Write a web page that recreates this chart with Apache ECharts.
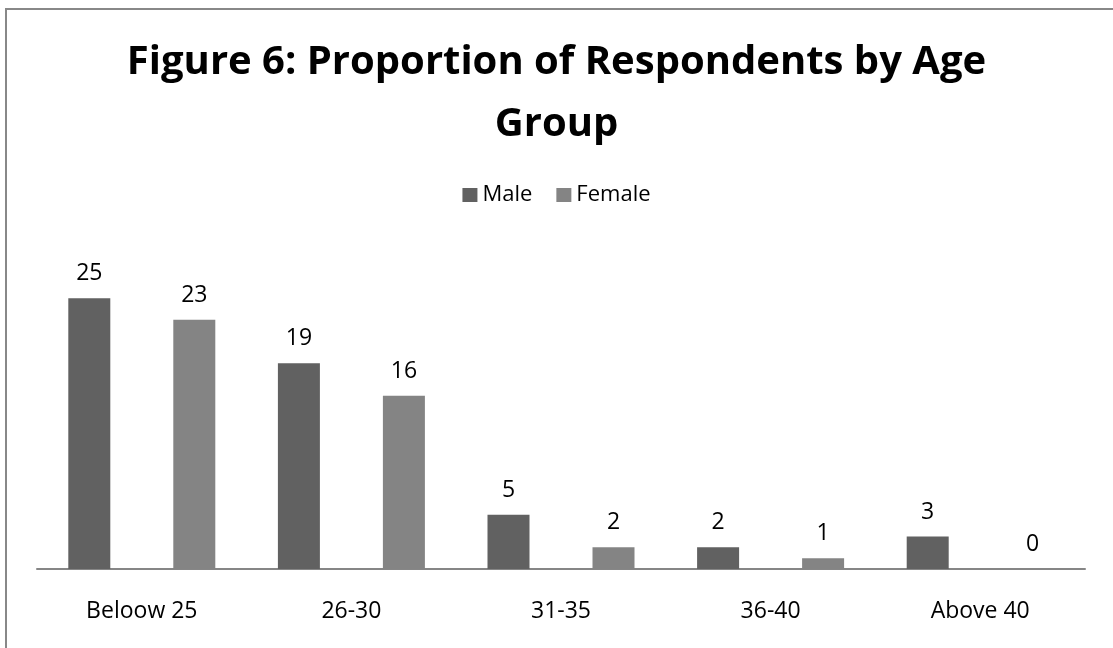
<!DOCTYPE html>
<html>
<head>
<meta charset="utf-8">
<script src="https://cdn.jsdelivr.net/npm/echarts@6/dist/echarts.min.js"></script>
<style>
html,body{margin:0;padding:0;background:#fff;}
#chart{width:1113px;height:648px;}
</style>
</head>
<body>
<div id="chart"></div>
<script>
const categories = ["Beloow 25", "26-30", "31-35", "36-40", "Above 40"];
const maleValues = [25, 19, 5, 2, 3];
const femaleValues = [23, 16, 2, 1, 0];
const seriesNames = ["Male", "Female"];
const titleText = "Figure 6: Proportion of Respondents by Age\nGroup";

const FONT = '"Open Sans", sans-serif';
const chart = echarts.init(document.getElementById('chart'), null, {renderer: 'canvas'});
const labelCfg = {
  show: true, position: 'top', distance: 13,
  color: '#000', fontSize: 23, fontFamily: FONT
};
chart.setOption({
  animation: false,
  backgroundColor: '#fff',
  graphic: [{
    type: 'rect', silent: true,
    shape: {x: 6, y: 9, width: 1200, height: 800},
    style: {fill: 'none', stroke: '#888', lineWidth: 2}
  }],
  title: {
    text: titleText, left: 'center', top: 27,
    textStyle: {fontFamily: FONT, fontWeight: 'bold', fontSize: 40, lineHeight: 62, color: '#000'}
  },
  legend: {
    top: 179, left: 'center',
    itemWidth: 15, itemHeight: 14, itemGap: 24,
    icon: 'rect',
    textStyle: {fontFamily: FONT, fontSize: 22, color: '#000'},
    data: seriesNames
  },
  grid: {left: 37, right: 28, top: 244, bottom: 79, containLabel: false},
  xAxis: {
    type: 'category', data: categories,
    axisLine: {show: true, lineStyle: {color: '#868686', width: 2}},
    axisTick: {show: false},
    axisLabel: {color: '#000', fontSize: 23, fontFamily: FONT, margin: 31}
  },
  yAxis: {
    type: 'value', min: 0, max: 30, show: false,
    splitLine: {show: false}
  },
  series: [
    {name: seriesNames[0], type: 'bar', data: maleValues, barWidth: 42, barGap: '150%',
     itemStyle: {color: '#616161'}, label: labelCfg},
    {name: seriesNames[1], type: 'bar', data: femaleValues, barWidth: 42, barGap: '150%',
     itemStyle: {color: '#848484'}, label: labelCfg}
  ]
});
</script>
</body>
</html>
